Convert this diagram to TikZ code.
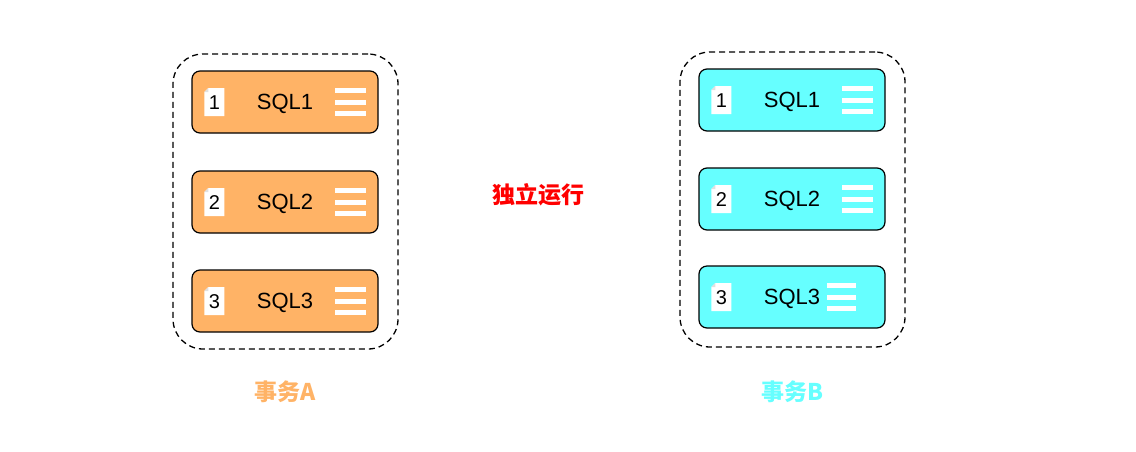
\documentclass[tikz,border=0pt]{standalone}
\usepackage{fontspec}
\setmainfont{Liberation Sans}
\newfontfamily\cjk{Noto Sans CJK SC}
\definecolor{orangeA}{HTML}{FFB366}
\definecolor{cyanB}{HTML}{66FFFF}
\tikzset{
  sqlbox/.style={draw=black, rounded corners=8pt, line width=1.2pt, minimum width=186pt, minimum height=62pt, inner sep=0pt},
  groupbox/.style={draw=black, dash pattern=on 6pt off 4pt, rounded corners=30pt, line width=1.3pt, minimum width=225pt, minimum height=295pt, inner sep=0pt},
  sqltext/.style={font=\fontsize{22}{25}\selectfont, inner sep=0pt, yshift=-2pt},
  numtext/.style={font=\fontsize{20}{23}\selectfont, inner sep=0pt, yshift=-1pt},
  barline/.style={draw=white, line width=5pt},
  grouplabel/.style={font=\cjk\bfseries\fontsize{23}{26}\selectfont, inner sep=0pt}
}
\newcommand\sqlrow[7]{%
  % #1 name, #2 cx, #3 cy, #4 fill, #5 num, #6 bar left offset, #7 bar right offset
  \node[sqlbox, fill=#4] (#1) at (#2,#3) {};
  \fill[white] ($(#1.west)+(13pt,10pt)$) -- ++(4pt,4pt) -- ($(#1.west)+(33pt,14pt)$) -- ($(#1.west)+(33pt,-14pt)$) -- ($(#1.west)+(13pt,-14pt)$) -- cycle;
  \fill[black!12] ($(#1.west)+(13pt,10pt)$) -- ++(4pt,4pt) -- ++(0,-4pt) -- cycle;
  \node[numtext] (#1num) at ($(#1.west)+(23pt,0)$) {#5};
  \node[sqltext] (#1txt) at (#1) {SQL#5};
  \foreach \dy in {-11.5,0,11.5} {
    \draw[barline] ($(#1.west)+(#6pt,\dy pt)$) -- ($(#1.west)+(#7pt,\dy pt)$);
  }
}
\usetikzlibrary{calc}
\begin{document}
\begin{tikzpicture}[x=1pt,y=-1pt]
\useasboundingbox (0,0) rectangle (1136,451);
\fill[white] (0,0) rectangle (1136,451);
% groups
\node[groupbox] (ga) at (285.5,201.5) {};
\node[groupbox] (gb) at (792.5,199.5) {};
% rows A
\sqlrow{a1}{285}{102}{orangeA}{1}{144}{175}
\sqlrow{a2}{285}{202}{orangeA}{2}{144}{175}
\sqlrow{a3}{285}{301}{orangeA}{3}{144}{175}
% rows B
\sqlrow{b1}{792}{100}{cyanB}{1}{144}{175}
\sqlrow{b2}{792}{199}{cyanB}{2}{144}{175}
\sqlrow{b3}{792}{297}{cyanB}{3}{129}{158}
% labels
\node[grouplabel, text=orangeA] (la) at (285,392) {事务A};
\node[grouplabel, text=cyanB] (lb) at (792,392) {事务B};
\node[grouplabel, text=red] (mid) at (538,195) {独立运行};
\end{tikzpicture}
\end{document}
